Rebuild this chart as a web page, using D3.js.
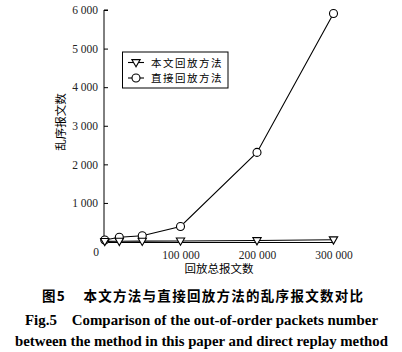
<!DOCTYPE html>
<html>
<head>
<meta charset="utf-8">
<script src="https://cdn.jsdelivr.net/npm/d3@7"></script>
<style>
  body { margin: 0; background: #fff; }
  svg { display: block; }
</style>
</head>
<body>
<div id="chart"></div>
<script>
// data
var packets = [1000, 20000, 50000, 100000, 200000, 300000];
var ourMethod = [5, 8, 10, 15, 25, 45];
var directReplay = [40, 110, 150, 390, 2310, 5910];
var yTicks = [1000, 2000, 3000, 4000, 5000, 6000];
var xTicks = [100000, 200000, 300000];
var seriesNames = ["本文回放方法", "直接回放方法"];

var width = 402;
var height = 352;
var serif = "'Liberation Serif', 'DejaVu Serif', serif";
var cjk = "'Noto Sans CJK SC', sans-serif";

var svg = d3.select("#chart").append("svg")
    .attr("width", width)
    .attr("height", height);

var x = d3.scaleLinear().domain([0, 300000]).range([104, 333.5]);
var y = d3.scaleLinear().domain([-25, 6000]).range([242.5, 10]);

var fmt = function(d) { return d3.format(",")(d).replace(/,/g, " "); };

// y axis, ticks pointing inward
var yAxis = svg.append("g")
    .attr("transform", "translate(" + x(0) + ",0)")
    .call(d3.axisLeft(y).tickValues(yTicks).tickSize(-4).tickPadding(6).tickFormat(fmt));
yAxis.select(".domain").attr("d", "M0," + y(-25) + "V" + y(6000) + "h4");
yAxis.selectAll("text").attr("font-family", serif).attr("font-size", 11.5).attr("fill", "#222");

// x axis
var xAxis = svg.append("g")
    .attr("transform", "translate(0," + y(-25) + ")")
    .call(d3.axisBottom(x).tickValues(xTicks).tickSize(-3).tickPadding(8).tickFormat(fmt));
xAxis.select(".domain").attr("d", "M" + x(0) + ",0H" + x(300000));
xAxis.selectAll("text").attr("font-family", serif).attr("font-size", 11.5).attr("fill", "#222");

// shared zero in the corner
svg.append("text")
    .attr("x", 96).attr("y", 256)
    .attr("text-anchor", "middle")
    .attr("font-family", serif).attr("font-size", 11.5).attr("fill", "#222")
    .text("0");

// axis titles
svg.append("text")
    .attr("transform", "translate(65,122) rotate(-90)")
    .attr("text-anchor", "middle")
    .attr("font-family", cjk).attr("font-size", 11.5)
    .text("乱序报文数");

svg.append("text")
    .attr("x", 219).attr("y", 273)
    .attr("text-anchor", "middle")
    .attr("font-family", cjk).attr("font-size", 11.5)
    .text("回放总报文数");

var line = d3.line()
    .x(function(d) { return x(d[0]); })
    .y(function(d) { return y(d[1]); });

var triangle = d3.symbol().type(d3.symbolTriangle).size(30);

function drawSeries(values, marker) {
    var pts = packets.map(function(p, i) { return [p, values[i]]; });
    svg.append("path")
        .datum(pts)
        .attr("d", line)
        .attr("fill", "none")
        .attr("stroke", "#000")
        .attr("stroke-width", 1.1);

    var g = svg.append("g");
    pts.forEach(function(d) {
        drawMarker(g, x(d[0]), y(d[1]), marker);
    });
}

function drawMarker(g, cx, cy, marker) {
    if (marker == "circle") {
        g.append("circle")
            .attr("cx", cx).attr("cy", cy).attr("r", 4)
            .attr("fill", "#fff").attr("stroke", "#000").attr("stroke-width", 1.1);
    } else {
        g.append("path")
            .attr("d", triangle())
            .attr("transform", "translate(" + cx + "," + (cy - 0.5) + ") rotate(180)")
            .attr("fill", "#fff").attr("stroke", "#000").attr("stroke-width", 1.1);
    }
}

drawSeries(directReplay, "circle");
drawSeries(ourMethod, "triangle");

// legend
var legend = svg.append("g");
legend.append("rect")
    .attr("x", 122.5).attr("y", 52)
    .attr("width", 105.5).attr("height", 36)
    .attr("fill", "#fff").attr("stroke", "#000").attr("stroke-width", 1);

var markers = ["triangle", "circle"];
seriesNames.forEach(function(name, i) {
    var ly = 62.5 + i * 15.5;
    legend.append("line")
        .attr("x1", 128).attr("x2", 144)
        .attr("y1", ly).attr("y2", ly)
        .attr("stroke", "#000").attr("stroke-width", 1.1);
    drawMarker(legend, 136, ly, markers[i]);
    legend.append("text")
        .attr("x", 151).attr("y", ly + 4)
        .attr("font-family", cjk).attr("font-size", 10.5)
        .attr("letter-spacing", 1.5)
        .text(name);
});

// caption, stretched to the widths seen in the figure
svg.append("text")
    .attr("x", 42).attr("y", 301)
    .attr("textLength", 321).attr("lengthAdjust", "spacing")
    .attr("font-family", cjk).attr("font-size", 13.5).attr("font-weight", "bold")
    .attr("xml:space", "preserve")
    .text("图5    本文方法与直接回放方法的乱序报文数对比");

svg.append("text")
    .attr("x", 25).attr("y", 325)
    .attr("textLength", 353).attr("lengthAdjust", "spacingAndGlyphs")
    .attr("font-family", serif).attr("font-size", 14).attr("font-weight", "bold")
    .attr("xml:space", "preserve")
    .text("Fig.5    Comparison of the out-of-order packets number");

svg.append("text")
    .attr("x", 15).attr("y", 346)
    .attr("textLength", 373).attr("lengthAdjust", "spacingAndGlyphs")
    .attr("font-family", serif).attr("font-size", 14).attr("font-weight", "bold")
    .text("between the method in this paper and direct replay method");
</script>
</body>
</html>
